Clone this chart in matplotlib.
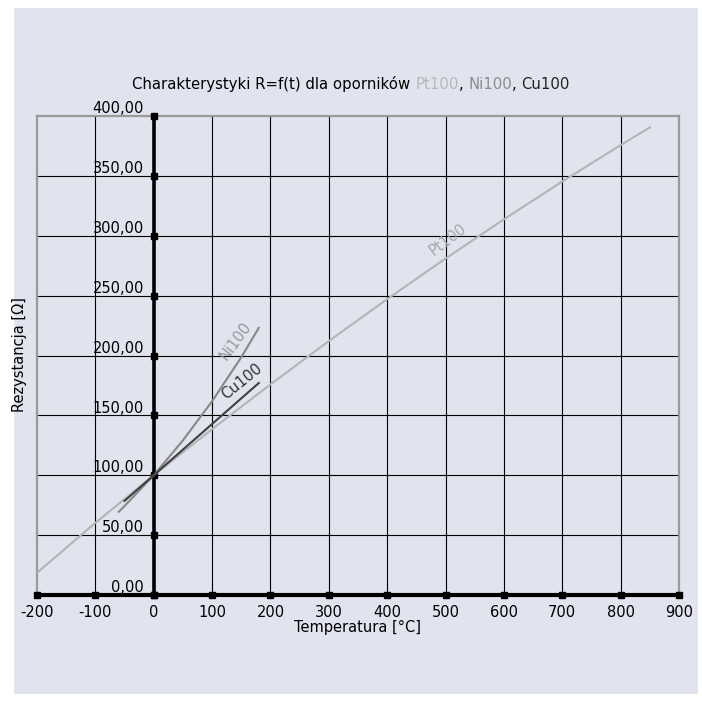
import matplotlib
matplotlib.use('Agg')
import matplotlib.pyplot as plt
from matplotlib.patches import Rectangle

# Charakterystyki R=f(t)
pt_t = [-200, -100, 0, 100, 200, 300, 400, 500, 600, 700, 800, 850]
pt_r = [18.52, 60.26, 100.0, 138.51, 175.86, 212.05, 247.09, 280.98, 313.71, 345.28, 375.70, 390.48]
ni_t = [-60, -50, 0, 50, 100, 150, 180]
ni_r = [69.5, 74.3, 100.0, 129.1, 161.8, 198.5, 223.1]
cu_t = [-50, 0, 50, 100, 150, 180]
cu_r = [78.6, 100.0, 121.4, 142.8, 164.2, 177.0]

x_ticks = [-200, -100, 0, 100, 200, 300, 400, 500, 600, 700, 800, 900]
y_ticks = [0, 50, 100, 150, 200, 250, 300, 350, 400]
y_labels = ['0,00', '50,00', '100,00', '150,00', '200,00', '250,00', '300,00', '350,00', '400,00']

bg = '#e1e3ef'
c_pt = '#b4b4b4'
c_ni = '#888888'
c_cu = '#404040'
fs = 10.5

plt.rcParams['font.family'] = 'DejaVu Sans'
fig = plt.figure(figsize=(7.02, 7.09), dpi=100)
fig.patch.set_facecolor('white')
fig.patches.append(Rectangle((14/702, 1-694/709), (698-14)/702, (694-8)/709,
                             transform=fig.transFigure, facecolor=bg, edgecolor='none', zorder=-5))

ax = fig.add_axes([37/702, 1-595/709, (679-37)/702, (595-116)/709])
ax.set_zorder(2)
ax.set_facecolor(bg)
ax.set_xlim(-200, 900)
ax.set_ylim(0, 400)

for x in x_ticks[1:-1]:
    ax.axvline(x, color='black', lw=0.8, zorder=1)
for y in y_ticks[1:-1]:
    ax.axhline(y, color='black', lw=0.8, zorder=1)
for s in ['left', 'top', 'right']:
    ax.spines[s].set_color('#9a9a9a')
    ax.spines[s].set_linewidth(1.6)
ax.spines['bottom'].set_color('black')
ax.spines['bottom'].set_linewidth(3)
ax.axvline(0, color='black', lw=2.6, zorder=2)

ax.plot([0] * len(y_ticks), y_ticks, 's', color='black', ms=4, zorder=3, clip_on=False)
ax.plot(x_ticks, [0] * len(x_ticks), 's', color='black', ms=4, zorder=3, clip_on=False)

ax.plot(pt_t, pt_r, color=c_pt, lw=1.5, zorder=4)
ax.plot(ni_t, ni_r, color=c_ni, lw=1.5, zorder=4)
ax.plot(cu_t, cu_r, color=c_cu, lw=1.5, zorder=5)

ax.text(504, 297, 'Pt100', color='#a8a8a8', fontsize=fs, rotation=37, ha='center', va='center', zorder=6)
ax.text(140, 212, 'Ni100', color='#999999', fontsize=fs, rotation=54, ha='center', va='center', zorder=6)
ax.text(151, 178, 'Cu100', color='#333333', fontsize=fs, rotation=39, ha='center', va='center', zorder=6)

ax.set_xticks(x_ticks)
ax.set_xticklabels([str(v) for v in x_ticks], fontsize=fs)
ax.tick_params(axis='x', length=0, pad=7)
ax.set_yticks([])
for v, lab in zip(y_ticks, y_labels):
    ax.annotate(lab, xy=(0, v), xytext=(-7, 2), textcoords='offset points',
                ha='right', va='baseline', fontsize=fs, zorder=6, annotation_clip=False)

ax.set_xlabel('Temperatura [°C]', fontsize=fs, labelpad=0)
fig.text(20/702, 1-355/709, 'Rezystancja [Ω]', rotation=90, ha='center', va='center', fontsize=fs)

# multicolour title
parts = [('Charakterystyki R=f(t) dla oporników ', 'black'), ('Pt100', '#b8b8b8'),
         (', ', 'black'), ('Ni100', '#8c8c8c'), (', ', 'black'), ('Cu100', '#222222')]
r = fig.canvas.get_renderer()
widths = []
for txt, col in parts:
    t = fig.text(0, 0, txt, fontsize=10.7)
    widths.append(t.get_window_extent(r).width)
    t.remove()
x0 = 351 - sum(widths) / 2
for (txt, col), w in zip(parts, widths):
    fig.text(x0 / 702, 1 - 89 / 709, txt, color=col, fontsize=10.7, va='baseline')
    x0 += w

fig.savefig('out.png', dpi=100, facecolor='white')
